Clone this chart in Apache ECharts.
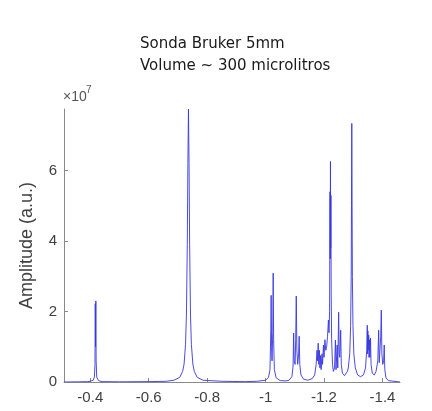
<!DOCTYPE html>
<html>
<head>
<meta charset="utf-8">
<script src="https://cdn.jsdelivr.net/npm/echarts@6/dist/echarts.min.js"></script>
<style>html,body{margin:0;padding:0;background:#fff}#c{width:432px;height:411px}</style>
</head>
<body>
<div id="c"></div>
<script>
// Chemical shift (ppm) / amplitude (x1e7) pairs
const titleLines = ['Sonda Bruker 5mm', 'Volume ~ 300 microlitros'];
const yLabel = 'Amplitude (a.u.)';
const xTicks = [-0.4, -0.6, -0.8, -1.0, -1.2, -1.4];
const yTicks = [0, 2, 4, 6];
const baseStart = [[-0.31, 0.0], [-0.36, 0.005], [-0.39, 0.01]];
const peakA = [[-0.400, 0.02], [-0.410, 0.05], [-0.414, 0.14], [-0.416, 0.5], [-0.417, 2.22], [-0.418, 1.0], [-0.419, 2.30], [-0.420, 0.6], [-0.422, 0.14], [-0.428, 0.04], [-0.44, 0.01]];
const base1 = [[-0.50, 0.005], [-0.60, 0.01], [-0.66, 0.02]];
const peakB = [[-0.686, 0.05], [-0.706, 0.13], [-0.716, 0.30], [-0.721, 0.51], [-0.726, 1.07], [-0.729, 1.9], [-0.732, 3.9], [-0.734, 6.2], [-0.736, 7.75], [-0.738, 6.2], [-0.740, 3.9], [-0.743, 1.9], [-0.746, 1.07], [-0.751, 0.51], [-0.756, 0.30], [-0.766, 0.13], [-0.786, 0.05]];
const base2 = [[-0.85, 0.02], [-0.93, 0.01], [-0.97, 0.02]];
const peakC = [[-1.000, 0.05], [-1.010, 0.13], [-1.015, 0.35], [-1.018, 1.5], [-1.019, 2.46], [-1.0205, 1.0], [-1.022, 0.6], [-1.0245, 1.4], [-1.026, 3.09], [-1.0275, 1.2], [-1.030, 0.35], [-1.036, 0.12], [-1.05, 0.04], [-1.07, 0.03]];
const peakD = [[-1.08, 0.05], [-1.09, 0.15], [-1.094, 0.45], [-1.096, 1.39], [-1.098, 0.6], [-1.101, 0.5], [-1.103, 1.2], [-1.105, 2.44], [-1.107, 0.9], [-1.110, 0.5], [-1.113, 0.8], [-1.115, 1.30], [-1.117, 0.5], [-1.121, 0.2], [-1.13, 0.08], [-1.145, 0.05], [-1.16, 0.1]];
const peakE = [[-1.168, 0.2], [-1.173, 0.5], [-1.176, 0.9], [-1.178, 0.6], [-1.180, 1.1], [-1.182, 0.5], [-1.184, 0.9], [-1.186, 0.4], [-1.188, 0.75], [-1.190, 0.35], [-1.193, 0.8], [-1.195, 0.5], [-1.198, 1.05], [-1.200, 0.7], [-1.203, 1.2], [-1.206, 0.9], [-1.209, 1.0], [-1.212, 1.3], [-1.215, 1.76], [-1.217, 1.4]];
const peakF = [[-1.219, 2.0], [-1.2205, 5.4], [-1.2212, 3.5], [-1.222, 6.26], [-1.2228, 3.8], [-1.2235, 5.3], [-1.2245, 2.5], [-1.226, 1.2], [-1.229, 0.5], [-1.232, 0.3]];
const peakG = [[-1.236, 0.4], [-1.239, 1.19], [-1.241, 0.35], [-1.243, 0.4], [-1.245, 1.05], [-1.247, 0.4], [-1.250, 1.98], [-1.252, 0.8], [-1.254, 0.7], [-1.257, 1.47], [-1.259, 0.5], [-1.263, 0.25], [-1.27, 0.18], [-1.28, 0.3]];
const peakH = [[-1.283, 0.4], [-1.288, 0.8], [-1.291, 1.6], [-1.293, 3.0], [-1.294, 5.0], [-1.295, 7.34], [-1.296, 5.0], [-1.297, 3.0], [-1.299, 1.6], [-1.302, 0.8], [-1.307, 0.4], [-1.315, 0.2], [-1.325, 0.15]];
const peakI = [[-1.335, 0.2], [-1.342, 0.4], [-1.346, 0.9], [-1.348, 1.61], [-1.349, 0.8], [-1.350, 1.45], [-1.351, 0.9], [-1.353, 1.33], [-1.354, 0.7], [-1.356, 1.2], [-1.357, 0.7], [-1.359, 1.25], [-1.361, 0.5], [-1.365, 0.25], [-1.372, 0.2]];
const peakJ = [[-1.378, 0.3], [-1.384, 0.6], [-1.387, 1.47], [-1.389, 0.55], [-1.392, 0.6], [-1.394, 1.3], [-1.396, 2.04], [-1.398, 0.8], [-1.401, 0.5], [-1.404, 0.6], [-1.406, 1.05], [-1.408, 0.35], [-1.412, 0.12], [-1.42, 0.04], [-1.46, 0.0]];

const spectrum = [].concat(baseStart, peakA, base1, peakB, base2, peakC, peakD, peakE, peakF, peakG, peakH, peakI, peakJ);

const chart = echarts.init(document.getElementById('c'), null, {renderer: 'canvas'});
const axisGray = '#8a8a8a';
const labelGray = '#404040';
chart.setOption({
  animation: false,
  backgroundColor: '#ffffff',
  grid: {left: 64, right: 32, top: 109, bottom: 29, containLabel: false},
  xAxis: {
    type: 'value', inverse: true, min: -1.46, max: -0.31,
    axisLine: {show: true, lineStyle: {color: axisGray, width: 1}},
    axisTick: {show: true, inside: true, length: 4, lineStyle: {color: axisGray}, customValues: xTicks},
    axisLabel: {color: labelGray, fontFamily: 'Liberation Sans', fontSize: 15, margin: 8, customValues: xTicks,
      formatter: v => String(Math.round(v * 10) / 10)},
    splitLine: {show: false}
  },
  yAxis: {
    type: 'value', min: 0, max: 7.75,
    name: yLabel, nameLocation: 'middle', nameGap: 28, nameRotate: 90,
    nameTextStyle: {color: labelGray, fontFamily: 'Liberation Sans', fontSize: 18},
    axisLine: {show: true, lineStyle: {color: axisGray, width: 1}},
    axisTick: {show: true, inside: true, length: 4, lineStyle: {color: axisGray}, customValues: yTicks},
    axisLabel: {color: labelGray, fontFamily: 'Liberation Sans', fontSize: 15, margin: 7, customValues: yTicks},
    splitLine: {show: false}
  },
  graphic: [
    {type: 'text', left: 140, top: 37, style: {text: titleLines[0], fill: '#1a1a1a', font: '15px "DejaVu Sans"'}},
    {type: 'text', left: 140, top: 59, style: {text: titleLines[1], fill: '#1a1a1a', font: '15px "DejaVu Sans"'}},
    {type: 'text', left: 63, top: 90, style: {text: '×10', fill: '#555', font: '14px "Liberation Sans"'}},
    {type: 'text', left: 86, top: 85, style: {text: '7', fill: '#555', font: '10px "Liberation Sans"'}}
  ],
  series: [{
    type: 'line', data: spectrum, showSymbol: false, symbol: 'none',
    lineStyle: {color: 'rgba(55,55,225,0.9)', width: 1},
    clip: true
  }]
});
</script>
</body>
</html>
